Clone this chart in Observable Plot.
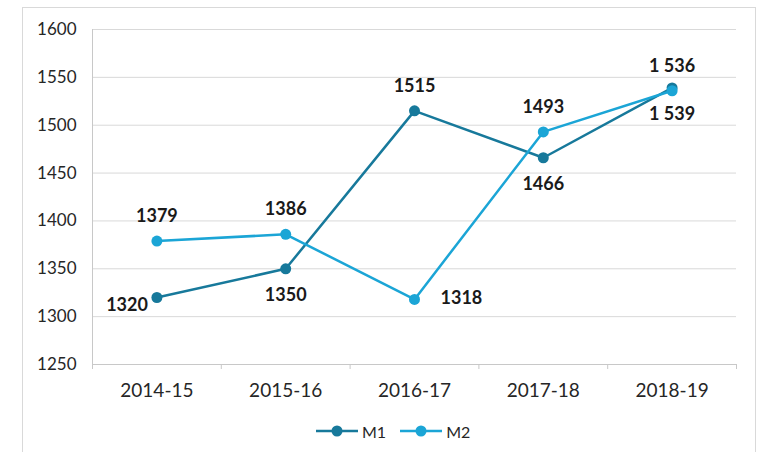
<!DOCTYPE html>
<html><head><meta charset="utf-8">
<script src="https://cdn.jsdelivr.net/npm/d3@7"></script>
<script src="https://cdn.jsdelivr.net/npm/@observablehq/plot@0.6"></script>
<style>
html,body{margin:0;padding:0;background:#fff;}
body{width:762px;height:452px;overflow:hidden;position:relative;font-family:Lato,"Noto Sans",sans-serif;}
#frame{position:absolute;left:22px;top:7px;width:734px;height:470px;border:1px solid #d9d9d9;box-sizing:border-box;}
#chart{position:absolute;left:0;top:0;}
#legend{position:absolute;left:316px;top:420px;height:22px;display:flex;align-items:center;font-size:16px;color:#262626;}
#legend .item{display:flex;align-items:center;margin-right:14px;}
#legend svg{margin-right:4px;}
</style>
</head><body>
<div id="frame"></div>
<div id="chart"></div>
<div id="legend"></div>
<script>
const years = ["2014-15", "2015-16", "2016-17", "2017-18", "2018-19"];
const seriesNames = ["M1", "M2"];
const m1 = [1320, 1350, 1515, 1466, 1539];
const m2 = [1379, 1386, 1318, 1493, 1536];
const m1Labels = ["1320", "1350", "1515", "1466", "1 539"];
const m2Labels = ["1379", "1386", "1318", "1493", "1 536"];
const m1Place = ["left", "below", "above", "below", "below"];
const m2Place = ["above", "above", "right", "above", "above"];
const yTicks = [1250, 1300, 1350, 1400, 1450, 1500, 1550, 1600];
const colors = ["#17799b", "#1ba5d6"];

const rows = [];
[[m1, m1Labels, m1Place], [m2, m2Labels, m2Place]].forEach(([vals, labs, places], s) => {
  vals.forEach((v, i) => rows.push({i, year: years[i], value: v, label: labs[i], place: places[i], series: seriesNames[s]}));
});

const placeStyle = {
  above: {dx: 0, dy: -25, textAnchor: "middle"},
  below: {dx: 0, dy: 26, textAnchor: "middle"},
  left: {dx: -9, dy: 8, textAnchor: "end"},
  right: {dx: 26, dy: -1, textAnchor: "start"}
};

const marks = [
  Plot.gridY(yTicks, {stroke: "#d9d9d9", strokeOpacity: 1, strokeWidth: 1}),
  Plot.axisY(yTicks, {tickSize: 0, tickPadding: 16, fontSize: 17, fill: "#262626", tickFormat: d => String(d), label: null}),
  Plot.ruleX([-0.5], {stroke: "#c8c8c8"}),
  Plot.ruleY([1250], {stroke: "#c8c8c8"}),
  Plot.axisX(d3.range(-0.5, 5, 1), {tickSize: 5, stroke: "#c8c8c8", tickFormat: () => "", label: null}),
  Plot.axisX(d3.range(years.length), {tickSize: 0, tickPadding: 19, fontSize: 19, fill: "#262626", tickFormat: i => years[i], label: null})
];
seriesNames.forEach(s => {
  const d = rows.filter(r => r.series === s);
  marks.push(Plot.line(d, {x: "i", y: "value", stroke: "series", strokeWidth: 2.5}));
  marks.push(Plot.dot(d, {x: "i", y: "value", fill: "series", r: 5.5}));
});
Object.entries(placeStyle).forEach(([p, st]) => {
  marks.push(Plot.text(rows.filter(r => r.place === p), {
    x: "i", y: "value", text: "label", fontSize: 18, fontWeight: 700, fill: "#1a1a1a", ...st
  }));
});

const chart = Plot.plot({
  width: 762, height: 400,
  marginLeft: 92, marginRight: 26, marginTop: 29, marginBottom: 36,
  style: {fontFamily: "Lato, 'Noto Sans', sans-serif", background: "transparent", overflow: "visible"},
  x: {type: "linear", domain: [-0.5, 4.5]},
  y: {domain: [1250, 1600]},
  color: {domain: seriesNames, range: colors},
  marks
});
document.getElementById("chart").appendChild(chart);

const legend = document.getElementById("legend");
seriesNames.forEach((s, k) => {
  const item = document.createElement("div");
  item.className = "item";
  item.innerHTML = `<svg width="42" height="14"><line x1="0" x2="42" y1="7" y2="7" stroke="${colors[k]}" stroke-width="2.5"/><circle cx="21" cy="7" r="5.5" fill="${colors[k]}"/></svg><span>${s}</span>`;
  legend.appendChild(item);
});
</script>
</body></html>
